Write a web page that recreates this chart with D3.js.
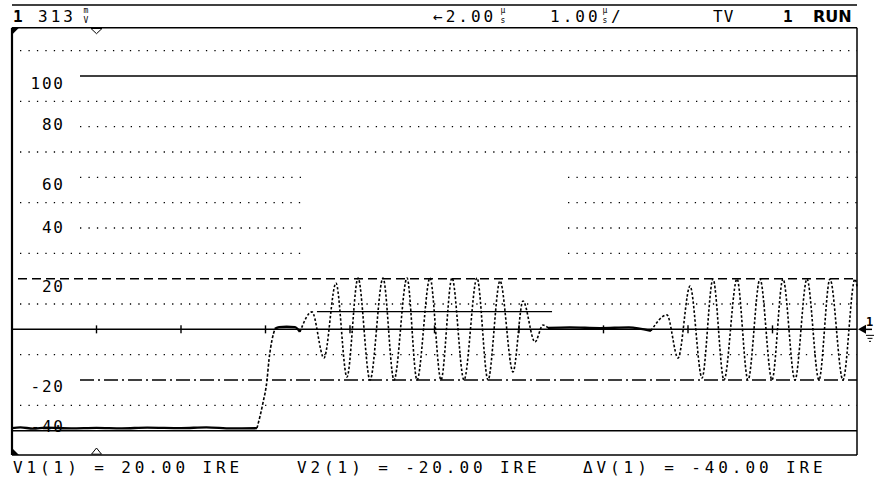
<!DOCTYPE html>
<html><head><meta charset="utf-8">
<script src="https://cdn.jsdelivr.net/npm/d3@7"></script>
<style>
html,body{margin:0;padding:0;background:#fff;}
svg{display:block;}
text{font-family:"DejaVu Sans Mono",monospace;fill:#000;}
</style></head><body>
<svg id="c" width="875" height="484"></svg>
<script>
// ---------------- data (time in µs, level in IRE) ----------------
const syncTip   = [[0,-39.0],[0.1,-38.7],[0.25,-39.2],[0.4,-38.8],[0.7,-39.1],[1.0,-38.9],[1.3,-39.1],[1.6,-38.8],[2.0,-39.0],[2.3,-38.7],[2.6,-39.1],[2.899,-39.0]];
const riseEdge  = [[2.899,-39.0],[2.970,-29.0],[3.018,-20.0],[3.041,-12.1],[3.077,-4.2],[3.112,0.2]];
const backPorch = [[3.112,0.2],[3.16,0.9],[3.25,1.0],[3.349,0.9],[3.408,-1.0]];
const burst1    = [[3.408,-1.0],[3.550,6.9],[3.692,-11.3],[3.834,18.3],[3.964,-18.8],[4.095,20.3],[4.237,-20.0],[4.391,20.3],[4.521,-20.0],[4.675,20.3],[4.793,-20.0],[4.947,20.3],[5.077,-20.0],[5.207,20.3],[5.349,-20.0],[5.503,20.3],[5.633,-20.0],[5.775,19.1],[5.929,-16.8],[6.047,11.2],[6.189,-5.0],[6.284,1.7],[6.343,0.6]];
const flatLevel = [[6.343,0.6],[6.6,0.8],[6.96,0.5],[7.3,0.8],[7.562,-0.6]];
const burst2    = [[7.562,-0.6],[7.751,5.7],[7.882,-11.3],[8.024,17.1],[8.166,-19.2],[8.296,19.9],[8.426,-20.0],[8.580,19.9],[8.710,-20.0],[8.852,19.9],[8.994,-20.0],[9.124,19.9],[9.266,-20.0],[9.408,19.9],[9.550,-20.0],[9.680,19.9],[9.834,-20.0],[9.976,19.9],[10.0,17.0]];
const setupLine = {from:3.609, to:6.391, level:7};
const triggerTime = 1.0;

const gridLevels  = [110, 90, 70, 50, 30, 10, -10, -30];
const labelLevels = [100, 80, 60, 40, 20, -20, -40];
const labelTexts  = ["100","80","60","40","20","-20","-40"];

const headerChannel = "1";
const headerScale   = "313";
const headerScaleUnit = ["m","V"];
const headerDelay   = "←2.00";
const headerTimebase = "1.00";
const timeUnit      = ["µ","s"];
const headerTrig    = "TV";
const headerRunCh   = "1";
const headerRun     = "RUN";
const readouts      = ["V1(1) = 20.00 IRE","V2(1) = -20.00 IRE","ΔV(1) = -40.00 IRE"];

// ---------------- layout ----------------
const svg = d3.select("#c");
const F = {left:12, right:857, top:27.7, bottom:455};
const x = d3.scaleLinear().domain([0,10]).range([F.left, F.right]);
const y = d3.scaleLinear().domain([-40,100]).range([430.7, 76]);
const gapFrom = 3.43, gapTo = 6.58;

svg.append("rect").attr("width",875).attr("height",484).attr("fill","#fff");

const g = svg.append("g");
function hline(level, x0, x1, dash, w){
  g.append("line").attr("x1",x0).attr("x2",x1).attr("y1",y(level)).attr("y2",y(level))
   .attr("stroke","#000").attr("stroke-width",w||1.3)
   .attr("stroke-dasharray",dash||null);
}
const DOT = "1.3,7.15";
gridLevels.forEach(l=>{
  if(l>=30 && l<=60){ hline(l,20,x(gapFrom),DOT); hline(l,x(gapTo),F.right,DOT); }
  else hline(l,20,F.right,DOT);
});
labelLevels.forEach(l=>{
  if(l===100) hline(l,80,F.right,null,1.4);
  else if(l===-40) hline(l,F.left,F.right,null,1.4);
  else if(l===20) hline(l,18,F.right,"9,5",1.4);
  else if(l===-20) hline(l,80,F.right,"14,4,2,4",1.4);
  else if(l>=40 && l<=60){ hline(l,80,x(gapFrom),DOT); hline(l,x(gapTo),F.right,DOT); }
  else hline(l,80,F.right,DOT);
});
hline(0,F.left,F.right,null,1.5);
x.ticks(10).filter(t=>t>0&&t<10).forEach(t=>{
  g.append("line").attr("x1",x(t)).attr("x2",x(t)).attr("y1",y(0)-4).attr("y2",y(0)+4)
   .attr("stroke","#000").attr("stroke-width",1.4);
});
g.append("line").attr("x1",x(setupLine.from)).attr("x2",x(setupLine.to))
 .attr("y1",y(setupLine.level)).attr("y2",y(setupLine.level)).attr("stroke","#000").attr("stroke-width",1.4);

const labelDy = {"100":12.5,"80":3,"60":12.5,"40":4.5,"20":13,"-20":12,"-40":1.5};
labelLevels.forEach((l,i)=>{
  g.append("text").attr("x",64.8).attr("y",y(l)+labelDy[labelTexts[i]])
   .attr("text-anchor","end").attr("font-size",16).attr("letter-spacing",1.8)
   .text(labelTexts[i]);
});

const line = d3.line().x(d=>x(d[0])).y(d=>y(d[1])).curve(d3.curveMonotoneX);
function trace(data, w, dash){
  g.append("path").attr("d",line(data)).attr("fill","none").attr("stroke","#000")
   .attr("stroke-width",w).attr("stroke-dasharray",dash||null);
}
trace(syncTip,2.4);
trace(riseEdge,1.6,"3,1.8");
trace(backPorch,2.4);
trace(burst1,1.6,"2.5,2");
trace(flatLevel,2.4);
trace(burst2,1.6,"2.5,2");

const fr = svg.append("g").attr("stroke","#000");
fr.append("line").attr("x1",F.left).attr("x2",F.right).attr("y1",5).attr("y2",5).attr("stroke-width",1.5);
fr.append("line").attr("x1",F.left).attr("x2",F.right).attr("y1",F.top).attr("y2",F.top).attr("stroke-width",1.5);
fr.append("line").attr("x1",F.left).attr("x2",F.right).attr("y1",F.bottom).attr("y2",F.bottom).attr("stroke-width",1.5);
fr.append("line").attr("x1",F.left).attr("x2",F.left).attr("y1",F.top).attr("y2",F.bottom).attr("stroke-width",2.2);
fr.append("line").attr("x1",F.right).attr("x2",F.right).attr("y1",F.top).attr("y2",F.bottom).attr("stroke-width",1.5);
svg.append("polygon").attr("points",`${F.left},${F.top} ${F.left+7},${F.top} ${F.left},${F.top+7}`).attr("fill","#000");
svg.append("polygon").attr("points",`${F.left},${F.bottom-7} ${F.left},${F.bottom} ${F.left+7},${F.bottom}`).attr("fill","#000");
const tx = x(triggerTime);
svg.append("polygon").attr("points",`${tx-5.5},${F.top+0.8} ${tx+5.5},${F.top+0.8} ${tx},${F.top+6}`).attr("fill","#fff").attr("stroke","#000").attr("stroke-width",1);
svg.append("polygon").attr("points",`${tx-5},${F.bottom-0.8} ${tx+5},${F.bottom-0.8} ${tx},${F.bottom-7}`).attr("fill","#fff").attr("stroke","#000").attr("stroke-width",1);
const gy = y(0);
svg.append("polygon").attr("points",`${F.right+1},${gy} ${F.right+9},${gy-4.5} ${F.right+9},${gy+4.5}`).attr("fill","#000");
svg.append("line").attr("x1",F.right+9).attr("x2",F.right+15).attr("y1",gy).attr("y2",gy).attr("stroke","#000").attr("stroke-width",1.5);
svg.append("text").attr("x",F.right+9).attr("y",gy-3).attr("font-size",12).attr("font-weight","bold").text(headerRunCh);
[[9,17,6],[10.5,15.5,9],[12,14,12]].forEach(s=>{
  svg.append("line").attr("x1",F.right+s[0]).attr("x2",F.right+s[1]).attr("y1",gy+s[2]).attr("y2",gy+s[2]).attr("stroke","#000").attr("stroke-width",1);
});

const hb = 22;
svg.append("text").attr("x",13).attr("y",hb).attr("font-size",16).attr("font-weight","bold").text(headerChannel);
svg.append("text").attr("x",38).attr("y",hb).attr("font-size",16).attr("letter-spacing",3).text(headerScale);
function stacked(cx, parts){
  svg.append("text").attr("x",cx).attr("y",hb-9).attr("font-size",8).attr("text-anchor","middle").text(parts[0]);
  svg.append("text").attr("x",cx).attr("y",hb+0.8).attr("font-size",8).attr("text-anchor","middle").text(parts[1]);
}
stacked(86, headerScaleUnit);
svg.append("text").attr("x",433).attr("y",hb).attr("font-size",16).attr("letter-spacing",3).text(headerDelay);
stacked(503, timeUnit);
svg.append("text").attr("x",550).attr("y",hb).attr("font-size",16).attr("letter-spacing",3).text(headerTimebase);
stacked(605, timeUnit);
svg.append("text").attr("x",611).attr("y",hb).attr("font-size",16).text("/");
svg.append("text").attr("x",713).attr("y",hb).attr("font-size",16).attr("letter-spacing",1).text(headerTrig);
svg.append("text").attr("x",783).attr("y",hb).attr("font-size",16).attr("font-weight","bold").text(headerRunCh);
svg.append("text").attr("x",813).attr("y",hb).attr("font-size",16).attr("font-weight","bold")
   .style("font-family","'DejaVu Sans',sans-serif").text(headerRun);

const rx = [13, 297, 583];
readouts.forEach((t,i)=>{
  svg.append("text").attr("x",rx[i]).attr("y",473).attr("font-size",16).attr("letter-spacing",3.9).text(t);
});
</script>
</body></html>
